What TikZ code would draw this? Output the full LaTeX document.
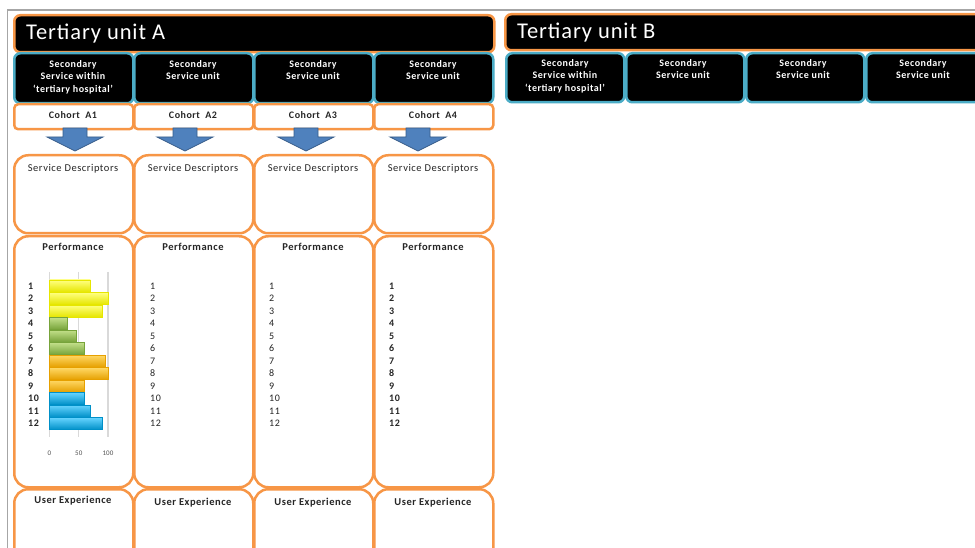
\documentclass[tikz,border=0pt]{standalone}
\usepackage{fontspec}
\setmainfont{Carlito}
\newfontfamily\spaced[LetterSpace=5]{Carlito}
\newfontfamily\spacedt[LetterSpace=4]{Carlito}
\definecolor{orangeB}{HTML}{F79646}
\definecolor{tealB}{HTML}{4BACC6}
\definecolor{arrowF}{HTML}{4F81BD}
\definecolor{arrowD}{HTML}{385D8A}
\definecolor{frameG}{HTML}{A6A6A6}
\definecolor{gridG}{HTML}{D9D9D9}
\definecolor{txt}{HTML}{262626}
\definecolor{yelT}{HTML}{FFFF80}\definecolor{yelB}{HTML}{E6E600}
\definecolor{grnT}{HTML}{C3E08A}\definecolor{grnB}{HTML}{77A33A}
\definecolor{orgT}{HTML}{FFD966}\definecolor{orgB}{HTML}{E6A000}
\definecolor{cyaT}{HTML}{66D4FF}\definecolor{cyaB}{HTML}{0090C8}
\begin{document}
\begin{tikzpicture}[x=1pt,y=-1pt,
  tertbox/.style={draw=orangeB, line width=2.5pt, fill=black, rounded corners=6pt, inner sep=0pt, anchor=north west},
  secbox/.style={draw=tealB, line width=2.5pt, fill=black, rounded corners=6pt, inner sep=0pt, anchor=north west, minimum height=50pt},
  cohbox/.style={draw=orangeB, line width=2.5pt, fill=white, rounded corners=4pt, inner sep=0pt, anchor=north west, minimum width=119pt, minimum height=25pt},
  cellbox/.style={draw=orangeB, line width=2.5pt, fill=white, rounded corners=14pt, inner sep=0pt, anchor=north west, minimum width=119pt},
  titletext/.style={text=white, font=\spacedt\fontsize{22.5}{24}\selectfont, inner sep=0pt, anchor=base west},
  sectext/.style={text=white, font=\spaced\fontsize{10}{12.5}\selectfont\bfseries, align=center, inner sep=0pt, anchor=north},
  cohtext/.style={text=txt, font=\spaced\fontsize{10}{10}\selectfont\bfseries, inner sep=0pt},
  celltext/.style={text=txt, font=\spaced\fontsize{10.5}{10}\selectfont, inner sep=0pt, anchor=base},
  celltextb/.style={celltext, font=\spaced\fontsize{10.5}{10}\selectfont\bfseries},
  numtext/.style={text=txt, font=\spaced\fontsize{10}{10}\selectfont, inner sep=0pt, anchor=west},
  numtextb/.style={numtext, font=\spaced\fontsize{10}{10}\selectfont\bfseries},
  blockarrow/.style={fill=arrowF, draw=arrowD, line width=0.8pt},
  ticktext/.style={text=txt!80, font=\fontsize{7}{7}\selectfont, inner sep=0pt}
]
\clip (0,0) rectangle (975,548);
\fill[white] (0,0) rectangle (975,548);
% frame
\draw[frameG, line width=1.5pt] (7.5,548) -- (7.5,10) -- (975,10);

% tertiary units
\node[tertbox, minimum width=480pt, minimum height=37pt] (tA) at (13,14) {};
\node[titletext] (tAt) at (26,40) {Tertiary unit A};
\node[tertbox, minimum width=500pt, minimum height=36pt] (tB) at (504,13) {};
\node[titletext] (tBt) at (517,39) {Tertiary unit B};

% secondary row A, cohorts, cells
\foreach \i/\lab in {1/{Secondary\\Service within\\‘tertiary hospital’},2/{Secondary\\Service unit},3/{Secondary\\Service unit},4/{Secondary\\Service unit}}{
  \pgfmathsetmacro{\xo}{13+120*(\i-1)}
  \pgfmathsetmacro{\xc}{\xo+60}
  \node[secbox, minimum width=119pt] (sA\i) at (\xo,52) {};
  \node[sectext] (sAt\i) at (\xc,60) {\lab};
  \node[cohbox] (cA\i) at (\xo,103) {};
  \node[cohtext] (cAt\i) at (\xc,115) {Cohort\ \ A\i};
  \node[cellbox, minimum height=78pt] (sd\i) at (\xo,154) {};
  \node[celltext] (sdt\i) at (\xc,171.5) {Service Descriptors};
  \node[cellbox, minimum height=251pt] (pf\i) at (\xo,235) {};
  \node[celltextb] (pft\i) at (\xc,251) {Performance};
  \node[cellbox, minimum height=90pt] (ux\i) at (\xo,488) {};
}
\node[celltextb] (uxt1) at (73,503.5) {User Experience};
\node[celltextb] (uxt2) at (193,505.5) {User Experience};
\node[celltextb] (uxt3) at (313,505.5) {User Experience};
\node[celltextb] (uxt4) at (433,505.5) {User Experience};

% secondary row B
\foreach \i/\xo/\xc/\lab in {1/505/565/{Secondary\\Service within\\‘tertiary hospital’},2/625/683/{Secondary\\Service unit},3/745/803/{Secondary\\Service unit},4/865/923/{Secondary\\Service unit}}{
  \node[secbox, minimum width=118pt, minimum height=49pt] (sB\i) at (\xo,52) {};
  \node[sectext] (sBt\i) at (\xc,59) {\lab};
}

% block arrows
\foreach \c in {75,185,306,418}{
  \filldraw[blockarrow] (\c-12,128) -- (\c+12,128) -- (\c+12,137) -- (\c+28,137) -- (\c,151) -- (\c-28,137) -- (\c-12,137) -- cycle;
}

% bar chart in column 1
\foreach \g in {0,50,100}{
  \draw[gridG, line width=1.2pt] (49.5+0.585*\g,272) -- (49.5+0.585*\g,437);
  \node[ticktext] at (49.5+0.585*\g,453) {\g};
}
\foreach \n/\v/\ct/\cb in {1/70/yelT/yelB,2/100/yelT/yelB,3/90/yelT/yelB,4/30/grnT/grnB,5/45/grnT/grnB,6/60/grnT/grnB,7/95/orgT/orgB,8/100/orgT/orgB,9/60/orgT/orgB,10/60/cyaT/cyaB,11/70/cyaT/cyaB,12/90/cyaT/cyaB}{
  \pgfmathsetmacro{\yc}{286+12.5*(\n-1)}
  \shade[top color=\ct, bottom color=\cb, draw=\cb, line width=0.4pt] (49.5,\yc-6) rectangle (49.5+0.585*\v,\yc+6);
}

% number labels
\foreach \n in {1,...,12}{
  \pgfmathsetmacro{\yc}{286+12.5*(\n-1)}
  \node[numtextb] at (28,\yc) {\n};
  \node[numtext] at (150,\yc) {\n};
  \node[numtext] at (269,\yc) {\n};
  \node[numtextb] at (389,\yc) {\n};
}
\end{tikzpicture}
\end{document}
